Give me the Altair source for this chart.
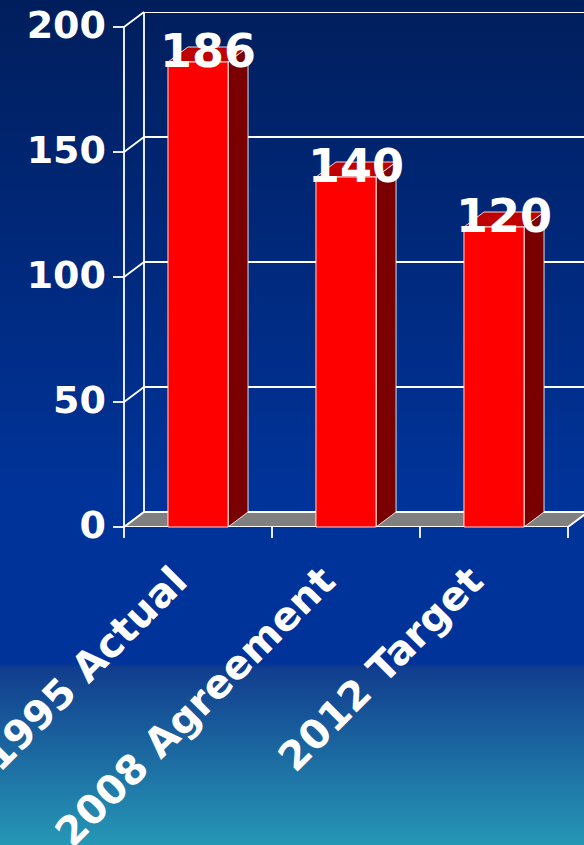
import altair as alt
import pandas as pd

# ---- data ----
categories = ["1995 Actual", "2008 Agreement", "2012 Target"]
values = [186, 140, 120]
y_ticks = [0, 50, 100, 150, 200]

# ---- geometry / style constants ----
W, H = 460, 515            # plot area in px
BAND = 148                 # px per category
XMAX = W / BAND
YMAX = 206
PXY = H / YMAX             # px per value unit
DX = 20 / BAND             # 3D depth, x (data units)
DY = 15 / PXY              # 3D depth, y (data units)
TX = 11 / BAND             # tick length, x (data units)
TY = 11 / PXY              # tick length, y (data units)
L, R = 0.297, 0.703        # bar front face within its band
FONT = "DejaVu Sans"
WHITE = "#FFFFFF"
LW = 1.8

xs = alt.Scale(domain=[0, XMAX], nice=False, zero=False)
ys = alt.Scale(domain=[0, YMAX], nice=False, zero=False)

n = len(categories)

# ---- derived tables ----
bars = pd.DataFrame({
    "bar": list(range(n)),
    "cat": categories,
    "value": values,
    "x": [i + L for i in range(n)],
    "x2": [i + R for i in range(n)],
    "xc": [i + 0.5 for i in range(n)],
    "zero": [0] * n,
})

side_rows, top_rows = [], []
for i, v in enumerate(values):
    side_rows.append({"bar": i, "x": i + R, "y": v, "y2": 0})
    side_rows.append({"bar": i, "x": i + R + DX, "y": v + DY, "y2": DY})
    top_rows.append({"bar": i, "y": v, "x": i + L, "x2": i + R})
    top_rows.append({"bar": i, "y": v + DY, "x": i + L + DX, "x2": i + R + DX})
side = pd.DataFrame(side_rows)
top = pd.DataFrame(top_rows)

floor = pd.DataFrame({"y": [0, DY], "x": [0, DX], "x2": [n, n + DX]})
grid = pd.DataFrame({"y": [v + DY for v in y_ticks], "x": [DX] * len(y_ticks), "x2": [XMAX] * len(y_ticks)})
diag = pd.DataFrame({"x": [0] * len(y_ticks), "x2": [DX] * len(y_ticks),
                     "y": y_ticks, "y2": [v + DY for v in y_ticks]})
ytick_df = pd.DataFrame({"x": [0] * len(y_ticks), "x2": [-TX] * len(y_ticks),
                         "y": y_ticks, "label": [str(v) for v in y_ticks]})
back_wall = pd.DataFrame({"x": [DX], "y": [DY], "y2": [YMAX]})
front_axis = pd.DataFrame({"x": [0], "y": [0], "y2": [max(y_ticks)]})
xtick_df = pd.DataFrame({"x": list(range(n + 1)), "y": [0] * (n + 1), "y2": [-TY] * (n + 1)})

gradient = alt.Gradient(
    gradient="linear", x1=0, x2=0, y1=0, y2=1,
    stops=[
        alt.GradientStop(color="#001E5C", offset=0.0),
        alt.GradientStop(color="#003399", offset=0.58),
        alt.GradientStop(color="#003399", offset=0.785),
        alt.GradientStop(color="#113D8E", offset=0.79),
        alt.GradientStop(color="#2697B5", offset=1.0),
    ],
)

X = lambda f: alt.X(f, scale=xs, axis=None)
Y = lambda f: alt.Y(f, scale=ys, axis=None)

bg = alt.Chart(alt.Data(values=[{"a": 1}])).mark_rect(fill=gradient).encode(
    x=alt.value(-124), x2=alt.value(W), y=alt.value(-12), y2=alt.value(845 - 12)
)

grid_layer = alt.Chart(grid).mark_rule(color=WHITE, strokeWidth=LW, clip=True).encode(
    x=X("x:Q"), x2="x2:Q", y=Y("y:Q"),
)

back_layer = alt.Chart(back_wall).mark_rule(color=WHITE, strokeWidth=LW).encode(
    x=X("x:Q"), y=Y("y:Q"), y2="y2:Q",
)

diag_layer = alt.Chart(diag).mark_rule(color=WHITE, strokeWidth=LW).encode(
    x=X("x:Q"), x2="x2:Q", y=Y("y:Q"), y2="y2:Q",
)

floor_layer = alt.Chart(floor).mark_area(
    orient="horizontal", fill="#808080", stroke=WHITE, strokeWidth=LW, clip=True
).encode(
    y=Y("y:Q"), x=X("x:Q"), x2="x2:Q",
)

front_layer = alt.Chart(front_axis).mark_rule(color=WHITE, strokeWidth=LW).encode(
    x=X("x:Q"), y=Y("y:Q"), y2="y2:Q",
)

ytick_layer = alt.Chart(ytick_df).mark_rule(color=WHITE, strokeWidth=LW).encode(
    x=X("x:Q"), x2="x2:Q", y=Y("y:Q"),
)

ylabel_layer = alt.Chart(ytick_df).mark_text(
    font=FONT, fontSize=38, fontWeight="bold", color=WHITE,
    align="right", baseline="middle", dx=-18,
).encode(
    x=X("x:Q"), y=Y("y:Q"), text="label:N",
)

xtick_layer = alt.Chart(xtick_df).mark_rule(color=WHITE, strokeWidth=LW).encode(
    x=X("x:Q"), y=Y("y:Q"), y2="y2:Q",
)

side_layer = alt.Chart(side).mark_area(
    fill="#7A0000", stroke=WHITE, strokeWidth=1, strokeOpacity=0.85
).encode(
    x=X("x:Q"), y=Y("y:Q"), y2="y2:Q", detail="bar:N",
)

top_layer = alt.Chart(top).mark_area(
    orient="horizontal", fill="#C00000", stroke=WHITE, strokeWidth=1, strokeOpacity=0.85
).encode(
    y=Y("y:Q"), x=X("x:Q"), x2="x2:Q", detail="bar:N",
)

front_bars = alt.Chart(bars).mark_rect(
    fill="#FF0000", stroke=WHITE, strokeWidth=1, strokeOpacity=0.85
).encode(
    x=X("x:Q"), x2="x2:Q", y=Y("zero:Q"), y2="value:Q",
)

value_labels = alt.Chart(bars).mark_text(
    font=FONT, fontSize=46, fontWeight="bold", color=WHITE,
    align="center", baseline="alphabetic", dx=10, dy=5,
).encode(
    x=X("xc:Q"), y=Y("value:Q"), text="value:Q",
)

cat_labels = alt.Chart(bars).mark_text(
    font=FONT, fontSize=40, fontWeight="bold", color=WHITE,
    angle=315, align="right", baseline="middle", dx=-46, dy=22,
).encode(
    x=X("xc:Q"), y=Y("zero:Q"), text="cat:N",
)

chart = alt.layer(
    bg, grid_layer, back_layer, diag_layer, floor_layer, front_layer,
    ytick_layer, ylabel_layer, xtick_layer,
    side_layer, top_layer, front_bars, value_labels, cat_labels,
).properties(
    width=W, height=H,
    autosize=alt.AutoSizeParams(type="none"),
    padding={"left": 124, "top": 12, "right": 0, "bottom": 845 - 12 - H},
    background="#003399",
).configure_view(stroke=None)

chart.save("out.html", embed_options={"renderer": "svg", "actions": False})
